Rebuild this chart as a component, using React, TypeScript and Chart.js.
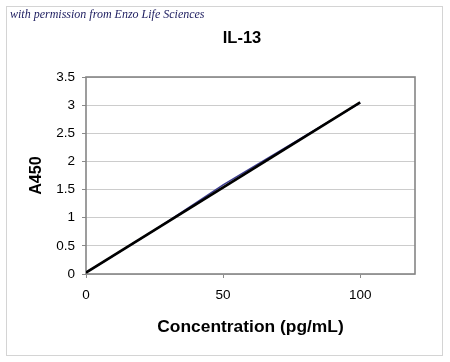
import React, { useEffect, useRef } from "react";
import { Chart, registerables } from "chart.js";

Chart.register(...registerables);

const TITLE = "IL-13";
const NOTE = "with permission from Enzo Life Sciences";
const X_TITLE = "Concentration (pg/mL)";
const Y_TITLE = "A450";

// measured standard curve (pg/mL -> A450)
const concentrations = [0, 3.125, 6.25, 12.5, 25, 50, 100];
const absorbance = [0.03, 0.12, 0.21, 0.4, 0.78, 1.585, 3.04];

// linear trend line end points
const trendX = [0, 100];
const trendY = [0.025, 3.05];

const xTicks = [0, 50, 100];
const X_MAX = 120;
const Y_MAX = 3.5;
const Y_STEP = 0.5;

const FONT = "Arial, 'Liberation Sans', sans-serif";

const framePlugin = {
  id: "frame",
  beforeDraw(chart: any) {
    const ctx = chart.ctx;
    ctx.save();
    ctx.fillStyle = "#ffffff";
    ctx.fillRect(0, 0, chart.width, chart.height);
    ctx.strokeStyle = "#d4d4d4";
    ctx.lineWidth = 1;
    ctx.strokeRect(6.5, 6.5, 436, 349);
    ctx.fillStyle = "#1b1b5e";
    ctx.font = "italic 12px 'Liberation Serif', 'DejaVu Serif', serif";
    ctx.textBaseline = "alphabetic";
    ctx.textAlign = "left";
    ctx.fillText(NOTE, 10, 17.5);
    ctx.fillStyle = "#000";
    ctx.font = "bold 16.5px " + FONT;
    ctx.textAlign = "center";
    ctx.textBaseline = "middle";
    ctx.fillText(TITLE, 242, 38.5);
    ctx.restore();
  },
  beforeDatasetsDraw(chart: any) {
    const { ctx, chartArea } = chart;
    ctx.save();
    ctx.strokeStyle = "#858585";
    ctx.lineWidth = 1.6;
    ctx.strokeRect(chartArea.left, chartArea.top, chartArea.right - chartArea.left, chartArea.bottom - chartArea.top);
    ctx.restore();
  },
};

export default function App() {
  const ref = useRef<HTMLCanvasElement>(null);
  useEffect(() => {
    if (!ref.current) return;
    const chart = new Chart(ref.current, {
      type: "scatter",
      data: {
        datasets: [
          {
            label: "trend",
            data: trendX.map((x, i) => ({ x, y: trendY[i] })),
            showLine: true,
            borderColor: "#000000",
            borderWidth: 2.6,
            pointRadius: 0,
            order: 0,
          },
          {
            label: "data",
            data: concentrations.map((x, i) => ({ x, y: absorbance[i] })),
            showLine: true,
            borderColor: "#3b3b8f",
            borderWidth: 1.5,
            pointRadius: 0,
            order: 1,
          },
        ],
      },
      options: {
        responsive: false,
        animation: false,
        layout: { padding: { left: 0, right: 35, top: 77, bottom: 0 } },
        plugins: {
          legend: { display: false },
          tooltip: { enabled: false },
          title: { display: false },
        },
        scales: {
          x: {
            type: "linear",
            min: 0,
            max: X_MAX,
            afterBuildTicks: (s: any) => {
              s.ticks = xTicks.map((v) => ({ value: v }));
            },
            afterFit: (s: any) => {
              s.height = 88;
            },
            ticks: {
              color: "#000",
              font: { family: FONT, size: 13.5 },
              padding: 9,
              maxRotation: 0,
              callback: (v: any) => String(v),
            },
            grid: {
              display: true,
              drawOnChartArea: false,
              drawTicks: true,
              tickLength: 4,
              color: "#8a8a8a",
            },
            border: { display: false },
            title: {
              display: true,
              text: X_TITLE,
              color: "#000",
              font: { family: FONT, size: 17.4, weight: "bold" },
              padding: { top: 0, bottom: 24.6 },
            },
          },
          y: {
            type: "linear",
            min: 0,
            max: Y_MAX,
            afterFit: (s: any) => {
              s.width = 86;
            },
            ticks: {
              stepSize: Y_STEP,
              color: "#000",
              font: { family: FONT, size: 13.5 },
              padding: 7,
              callback: (v: any) => String(v),
            },
            grid: {
              color: "#cccccc",
              lineWidth: 1,
              drawTicks: true,
              tickLength: 4,
              tickColor: "#8a8a8a",
            },
            border: { display: false },
            title: {
              display: true,
              text: Y_TITLE,
              color: "#000",
              font: { family: FONT, size: 16.2, weight: "bold" },
              padding: { top: 27, bottom: 0 },
            },
          },
        },
      },
      plugins: [framePlugin],
    } as any);
    return () => chart.destroy();
  }, []);
  return (
    <div style={{ position: "absolute", left: 0, top: 0, width: 450, height: 362 }}>
      <canvas ref={ref} width={450} height={362} style={{ display: "block" }} />
    </div>
  );
}
